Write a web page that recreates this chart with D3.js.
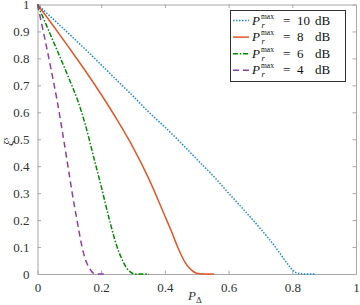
<!DOCTYPE html>
<html>
<head>
<meta charset="utf-8">
<script src="https://cdn.jsdelivr.net/npm/d3@7"></script>
<style>
  body { margin: 0; background: #fff; }
  text { font-family: "Liberation Serif", "DejaVu Serif", serif; }
</style>
</head>
<body>
<div id="content"></div>
<script>
// datos
var p10 = [0, 0.05, 0.1, 0.15, 0.2, 0.25, 0.3, 0.35, 0.4, 0.45, 0.5, 0.55, 0.6, 0.65, 0.7, 0.75, 0.77, 0.79, 0.8, 0.81, 0.82, 0.84, 0.874];
var xi10 = [1, 0.945, 0.89, 0.834, 0.776, 0.718, 0.66, 0.6, 0.545, 0.487, 0.426, 0.366, 0.3, 0.235, 0.168, 0.095, 0.062, 0.03, 0.016, 0.006, 0.002, 0, 0];

var p8 = [0, 0.05, 0.1, 0.15, 0.2, 0.25, 0.3, 0.35, 0.4, 0.42, 0.44, 0.46, 0.48, 0.5, 0.52, 0.554];
var xi8 = [1, 0.92, 0.838, 0.754, 0.666, 0.572, 0.47, 0.352, 0.215, 0.16, 0.1, 0.05, 0.018, 0.003, 0, 0];

var p6 = [0, 0.05, 0.1, 0.125, 0.15, 0.175, 0.2, 0.225, 0.25, 0.265, 0.28, 0.29, 0.3, 0.31, 0.35];
var xi6 = [1, 0.862, 0.722, 0.648, 0.555, 0.44, 0.325, 0.205, 0.1, 0.055, 0.022, 0.009, 0.002, 0, 0];

var p4 = [0, 0.02, 0.04, 0.061, 0.082, 0.1, 0.109, 0.124, 0.14, 0.15, 0.164, 0.175, 0.185, 0.22];
var xi4 = [1, 0.89, 0.775, 0.647, 0.5, 0.367, 0.3, 0.2, 0.1, 0.055, 0.02, 0.003, 0, 0];

var seriesNames = ["10", "8", "6", "4"];
var xTicks = [0, 0.2, 0.4, 0.6, 0.8, 1];
var yTicks = [0, 0.1, 0.2, 0.3, 0.4, 0.5, 0.6, 0.7, 0.8, 0.9, 1];

// dimensiones
var width = 360;
var height = 305;
var mLeft = 37.5, mRight = 356, mTop = 4.5, mBottom = 274;

var svg = d3.select("#content")
  .append("svg")
  .attr("width", width)
  .attr("height", height);

var x = d3.scaleLinear().domain([0, 1]).range([mLeft, mRight]);
var y = d3.scaleLinear().domain([0, 1]).range([mBottom, mTop]);

var axisColor = "#a8a8a8";
var fontFam = '"Liberation Serif", "DejaVu Serif", serif';

// ejes con ticks hacia adentro
function styleAxis(g) {
  g.select(".domain").attr("stroke", axisColor);
  g.selectAll(".tick line").attr("stroke", axisColor);
  g.selectAll(".tick text")
    .attr("fill", "#333")
    .attr("font-family", fontFam)
    .attr("font-size", 13);
}

svg.append("g")
  .attr("transform", "translate(0," + mBottom + ")")
  .call(d3.axisBottom(x).tickValues(xTicks).tickFormat(d3.format("")).tickSizeInner(-3.5).tickSizeOuter(0).tickPadding(9))
  .call(styleAxis);

svg.append("g")
  .attr("transform", "translate(0," + mTop + ")")
  .call(d3.axisTop(x).tickValues(xTicks).tickFormat("").tickSizeInner(-3.5).tickSizeOuter(0))
  .call(styleAxis);

svg.append("g")
  .attr("transform", "translate(" + mLeft + ",0)")
  .call(d3.axisLeft(y).tickValues(yTicks).tickFormat(d3.format("")).tickSizeInner(-3.5).tickSizeOuter(0).tickPadding(8))
  .call(styleAxis);

svg.append("g")
  .attr("transform", "translate(" + mRight + ",0)")
  .call(d3.axisRight(y).tickValues(yTicks).tickFormat("").tickSizeInner(-3.5).tickSizeOuter(0))
  .call(styleAxis);

// curvas
var series = [
  { name: seriesNames[0], xs: p10, ys: xi10, color: "#1a86d6", dash: "1.5,1.5" },
  { name: seriesNames[1], xs: p8, ys: xi8, color: "#e0592a", dash: null },
  { name: seriesNames[2], xs: p6, ys: xi6, color: "#008a00", dash: "5,1.8,1.5,1.8" },
  { name: seriesNames[3], xs: p4, ys: xi4, color: "#8e3fa6", dash: "6,4" }
];

var line = d3.line()
  .x(function(d) { return x(d[0]); })
  .y(function(d) { return y(d[1]); })
  .curve(d3.curveMonotoneX);

series.forEach(function(s) {
  var pts = s.xs.map(function(v, i) { return [v, s.ys[i]]; });
  svg.append("path")
    .datum(pts)
    .attr("d", line)
    .attr("fill", "none")
    .attr("stroke", s.color)
    .attr("stroke-width", 1.5)
    .attr("stroke-dasharray", s.dash);
});

// leyenda
var legend = svg.append("g");
legend.append("rect")
  .attr("x", 230.5).attr("y", 10.5)
  .attr("width", 115).attr("height", 71)
  .attr("fill", "#fff")
  .attr("stroke", "#333")
  .attr("stroke-width", 1);

series.forEach(function(s, i) {
  var cy = 20.5 + i * 16.6;
  var base = cy + 4;
  legend.append("line")
    .attr("x1", 233).attr("x2", 249)
    .attr("y1", cy).attr("y2", cy)
    .attr("stroke", s.color)
    .attr("stroke-width", 1.5)
    .attr("stroke-dasharray", s.dash);
  legend.append("text")
    .attr("x", 252).attr("y", base)
    .style("font-size", "13px").style("font-style", "italic")
    .attr("fill", "#111")
    .text("P");
  legend.append("text")
    .attr("x", 261).attr("y", base - 6)
    .style("font-size", "7.5px")
    .attr("fill", "#111")
    .text("max");
  legend.append("text")
    .attr("x", 261.5).attr("y", base + 3)
    .style("font-size", "8.5px").style("font-style", "italic")
    .attr("fill", "#111")
    .text("r");
  legend.append("text")
    .attr("x", 283).attr("y", base)
    .style("font-size", "13px")
    .attr("fill", "#111")
    .text("=");
  legend.append("text")
    .attr("x", 297).attr("y", base)
    .style("font-size", "13px")
    .attr("fill", "#111")
    .text(s.name);
  legend.append("text")
    .attr("x", 315).attr("y", base)
    .style("font-size", "13px")
    .attr("fill", "#111")
    .text("dB");
});

// etiquetas de ejes
var xl = svg.append("text")
  .attr("x", 188).attr("y", 300)
  .attr("fill", "#333")
  .style("font-size", "13px");
xl.append("tspan").style("font-style", "italic").text("P");
xl.append("tspan").attr("dy", 2.5).style("font-size", "9px").text("Δ");

var yl = svg.append("text")
  .attr("transform", "translate(13,146) rotate(-90)")
  .attr("fill", "#333")
  .style("font-size", "13px");
yl.append("tspan").style("font-style", "italic").text("ξ");
yl.append("tspan").attr("dy", -5).style("font-size", "8px").style("font-style", "italic").text("s");
</script>
</body>
</html>
